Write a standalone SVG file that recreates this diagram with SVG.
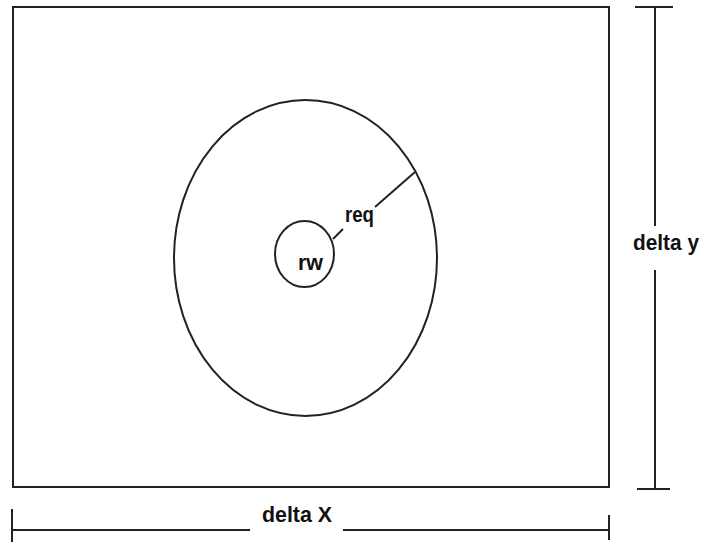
<svg xmlns="http://www.w3.org/2000/svg" width="702" height="543" viewBox="0 0 702 543">
<style>
.ln{stroke:#222;stroke-width:2;fill:none}
.lbl{font-family:"Liberation Sans",Arial,sans-serif;font-weight:bold;font-size:22px;fill:#111}
</style>
<rect x="0" y="0" width="702" height="543" fill="#fff"/>
<g id="domain"><rect class="ln" x="13" y="7" width="596" height="480"/></g>
<g id="req-ellipse"><ellipse class="ln" cx="305.5" cy="258" rx="131.5" ry="158"/></g>
<g id="rw-circle"><ellipse class="ln" cx="304.5" cy="254" rx="29.5" ry="33"/>
<text class="lbl" x="298" y="270" textLength="25" lengthAdjust="spacingAndGlyphs">rw</text></g>
<g id="connectors">
<line class="ln" x1="333" y1="239" x2="343" y2="229"/>
<line class="ln" x1="375" y1="207" x2="415" y2="172"/>
<line class="ln" x1="655" y1="7" x2="655" y2="226"/>
<line class="ln" x1="655" y1="270" x2="655" y2="489"/>
<line class="ln" x1="635" y1="7" x2="673" y2="7"/>
<line class="ln" x1="637" y1="489" x2="670" y2="489"/>
<line class="ln" x1="12" y1="530" x2="250" y2="530"/>
<line class="ln" x1="343" y1="530" x2="609" y2="530"/>
<line class="ln" x1="12" y1="509" x2="12" y2="542"/>
<line class="ln" x1="609" y1="515" x2="609" y2="540"/>
</g>
<g id="labels">
<text class="lbl" x="345" y="222" textLength="29" lengthAdjust="spacingAndGlyphs">req</text>
<text class="lbl" x="262" y="522" textLength="70" lengthAdjust="spacingAndGlyphs">delta X</text>
<text class="lbl" x="633" y="250" textLength="66" lengthAdjust="spacingAndGlyphs">delta y</text>
</g>
</svg>
